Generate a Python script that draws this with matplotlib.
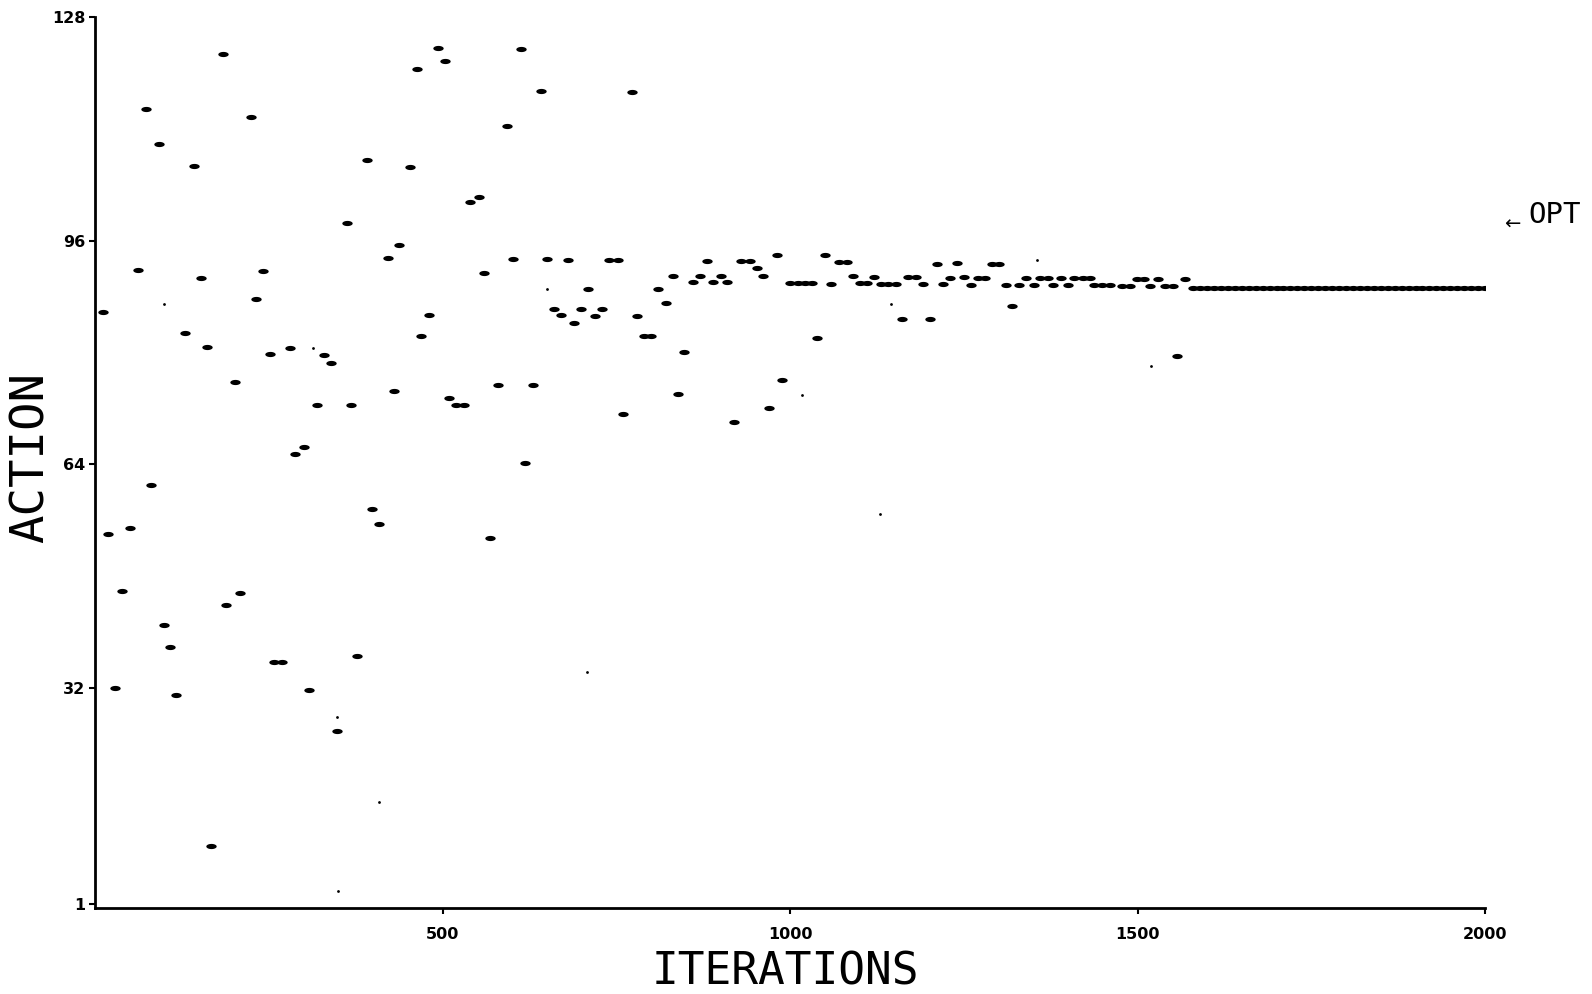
import matplotlib
matplotlib.use('Agg')
import matplotlib.pyplot as plt
import numpy as np

# action chosen vs iteration
iters = [11, 19, 28, 39, 50, 62, 74, 80, 92, 99, 108, 117, 130, 142, 152, 161, 167,
         184, 189, 201, 209, 224, 232, 242, 252, 258, 269, 281, 288, 300, 308, 319,
         329, 340, 348, 362, 369, 377, 392, 399, 409, 421, 430, 438, 453, 463, 469,
         480, 493, 504, 510, 519, 531, 540, 552, 560, 568, 580, 593, 601, 613, 619,
         630, 642, 650, 660, 670, 680, 689, 699, 710, 720, 730, 740, 752, 759, 772,
         780, 790, 800, 810, 821, 831, 839, 848, 860, 870, 880, 889, 901, 910, 919,
         930, 942, 952, 961, 970, 981, 988, 1000, 1011, 1021, 1031, 1039, 1050, 1059,
         1071, 1082, 1090, 1100, 1111, 1121, 1131, 1141, 1152, 1161, 1170, 1181, 1191,
         1201, 1211, 1220, 1230, 1240, 1250, 1260, 1270, 1281, 1290, 1301, 1311, 1320,
         1330, 1340, 1351, 1359, 1371, 1379, 1390, 1400, 1409, 1421, 1431, 1438, 1449,
         1460, 1478, 1489, 1499, 1510, 1518, 1529, 1539, 1551, 1557, 1568]
actions = [85.8, 54.0, 32.0, 45.9, 54.9, 91.8, 114.8, 61.0, 109.8, 41.0, 37.9, 31.0, 82.7,
           106.7, 90.7, 80.8, 9.3, 122.7, 43.8, 75.7, 45.6, 113.7, 87.6, 91.6, 79.7, 35.7,
           35.7, 80.6, 65.5, 66.5, 31.7, 72.5, 79.6, 78.5, 25.8, 98.5, 72.5, 36.6, 107.5,
           57.6, 55.5, 93.5, 74.4, 95.4, 106.5, 120.6, 82.4, 85.3, 123.6, 121.7, 73.4,
           72.4, 72.4, 101.5, 102.3, 91.3, 53.4, 75.3, 112.4, 93.4, 123.4, 64.2, 75.3,
           117.4, 93.4, 86.2, 85.3, 93.2, 84.2, 86.2, 89.1, 85.2, 86.2, 93.2, 93.2, 71.2,
           117.2, 85.2, 82.3, 82.3, 89.1, 87.1, 91.0, 74.1, 80.1, 90.0, 91.0, 93.1, 90.0,
           91.0, 90.0, 70.0, 93.1, 93.1, 92.1, 90.9, 72.0, 94.0, 76.0, 89.9, 89.9, 89.9,
           89.9, 82.0, 93.9, 89.8, 92.9, 92.9, 90.9, 89.9, 89.9, 90.8, 89.8, 89.8, 89.8,
           84.8, 90.8, 90.8, 89.8, 84.8, 92.7, 89.8, 90.7, 92.8, 90.8, 89.7, 90.7, 90.7,
           92.7, 92.7, 89.7, 86.7, 89.7, 90.7, 89.7, 90.6, 90.6, 89.6, 90.6, 89.6, 90.6,
           90.6, 90.6, 89.6, 89.6, 89.6, 89.5, 89.5, 90.5, 90.5, 89.5, 90.5, 89.5, 89.5,
           79.5, 90.5]

# converged tail
conv_iters = [1580, 1590, 1600, 1610, 1620, 1630, 1640, 1650, 1660, 1670, 1680, 1690,
              1700, 1710, 1720, 1730, 1740, 1750, 1760, 1770, 1780, 1790, 1800, 1810,
              1820, 1830, 1840, 1850, 1860, 1870, 1880, 1890, 1900, 1910, 1920, 1930,
              1940, 1950, 1960, 1970, 1980, 1990, 2000]
conv_actions = [89.2] * len(conv_iters)

# small specks on the scan
speck_iters = [99, 314, 348, 349, 408, 650, 708, 1017, 1130, 1146, 1356, 1520]
speck_actions = [86.9, 80.6, 27.8, 2.9, 15.6, 89.1, 34.2, 73.9, 56.9, 86.9, 93.2, 78.1]

yticks = [1, 32, 64, 96, 128]
xticks = [500, 1000, 1500, 2000]

# flat dash marker like the plotter's
t = np.linspace(0, 2 * np.pi, 24)
dash = np.c_[np.cos(t), 0.5 * np.sin(t)]

fig = plt.figure(figsize=(15.92, 9.94), dpi=100)
ax = fig.add_axes([0.0597, 0.0865, 0.8731, 0.8964])

ax.plot(iters, actions, ls='none', marker=dash, ms=7.5, mew=0, color='black')
ax.plot(conv_iters, conv_actions, ls='none', marker=dash, ms=7.5, mew=0, color='black')
ax.plot(speck_iters, speck_actions, ls='none', marker='o', ms=2, mew=0, color='black')

ax.set_xlim(0, 2000)
ax.set_ylim(0.47, 128)
ax.set_xticks(xticks)
ax.set_yticks(yticks)
for s in ['top', 'right']:
    ax.spines[s].set_visible(False)
for s in ['left', 'bottom']:
    ax.spines[s].set_linewidth(2)
ax.tick_params(axis='y', direction='out', length=4, width=1.5, pad=3)
ax.tick_params(axis='x', direction='out', length=4, width=1.5, pad=10)
for lab in ax.get_xticklabels() + ax.get_yticklabels():
    lab.set_fontsize(11.5)
    lab.set_fontweight('bold')

fig.text(0.4931, 0.0221, 'ITERATIONS', family='DejaVu Sans Mono', fontsize=32,
         ha='center', va='center')
fig.text(0.0198, 0.5402, 'ACTION', family='DejaVu Sans Mono', fontsize=34,
         rotation=90, ha='center', va='center')
fig.text(0.9497, 0.7746, '←', fontsize=14, ha='center', va='center')
fig.text(0.9765, 0.7837, 'OPT', family='DejaVu Sans Mono', fontsize=21,
         ha='center', va='center')

fig.savefig('out.png', dpi=100)
